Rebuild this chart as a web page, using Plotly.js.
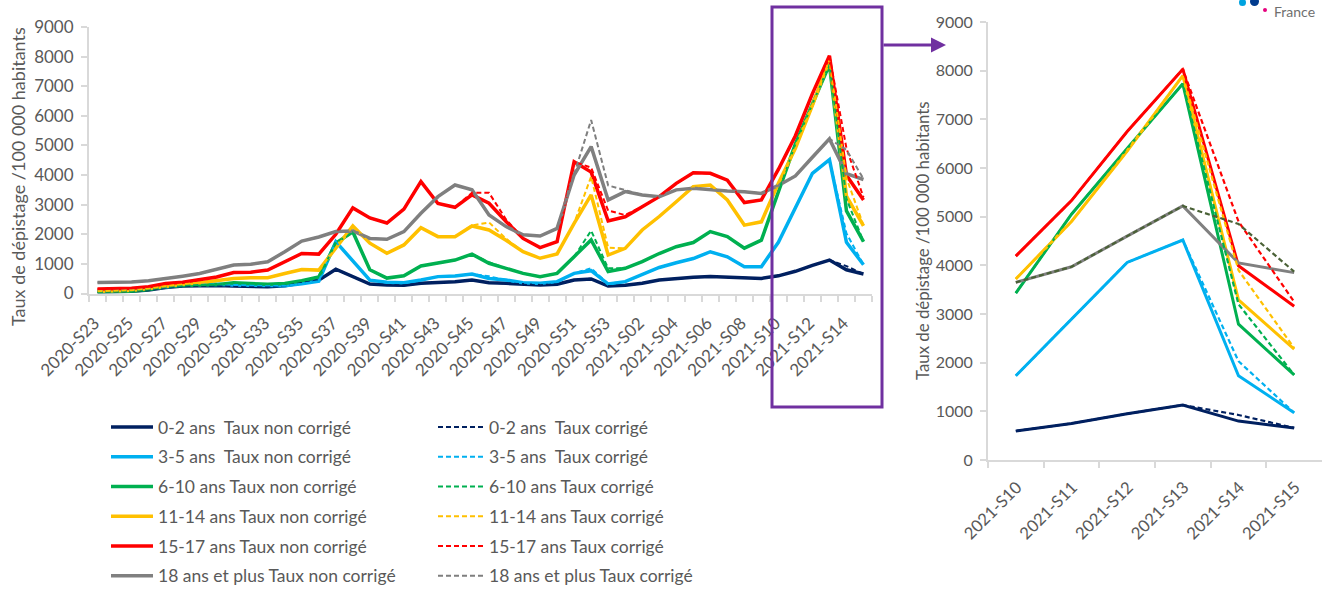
<!DOCTYPE html>
<html>
<head>
<meta charset="utf-8">
<script src="https://cdn.plot.ly/plotly-3.0.1.min.js"></script>
<style>html,body{margin:0;padding:0;background:#fff;}#chart{width:1344px;height:590px;}</style>
</head>
<body>
<div id="chart"></div>
<script>
// ---- Data ----
const weeks = ["2020-S23","2020-S24","2020-S25","2020-S26","2020-S27","2020-S28","2020-S29","2020-S30","2020-S31","2020-S32",
"2020-S33","2020-S34","2020-S35","2020-S36","2020-S37","2020-S38","2020-S39","2020-S40","2020-S41","2020-S42",
"2020-S43","2020-S44","2020-S45","2020-S46","2020-S47","2020-S48","2020-S49","2020-S50","2020-S51","2020-S52",
"2020-S53","2021-S01","2021-S02","2021-S03","2021-S04","2021-S05","2021-S06","2021-S07","2021-S08","2021-S09",
"2021-S10","2021-S11","2021-S12","2021-S13","2021-S14","2021-S15"];

const groups = ["0-2 ans\u00a0 ", "3-5 ans\u00a0 ", "6-10 ans ", "11-14 ans ", "15-17 ans ", "18 ans et plus "];
const colors = ["#002060", "#00b0f0", "#00b050", "#ffc000", "#ff0000", "#808080"];
const dashColors = ["#002060", "#00b0f0", "#00b050", "#ffc000", "#ff0000", "#7f7f7f"];
const zoomDashColors = ["#002060", "#00b0f0", "#00b050", "#ffc000", "#ff0000", "#4a6136"];

const age0_2 = [50,60,80,120,200,250,270,270,250,240,230,260,350,450,820,560,320,290,275,345,365,400,455,365,345,310,290,310,455,490,250,275,345,455,510,545,570,545,520,510,596,750,950,1130,800,657];
const age0_2c = [50,60,80,120,200,250,270,270,250,240,230,260,350,450,820,560,320,290,275,345,365,400,455,365,345,310,290,310,455,500,250,275,345,455,510,545,570,545,520,510,596,750,950,1130,925,660];

const age3_5 = [80,90,110,160,230,280,300,310,290,280,250,260,330,420,1750,1100,450,380,365,455,570,590,660,510,455,365,345,400,680,770,320,400,650,880,1040,1180,1410,1240,905,905,1730,2900,4060,4520,1730,970];
const age3_5c = [80,90,110,160,230,280,300,310,290,280,250,260,330,420,1750,1100,450,380,365,455,570,590,660,580,455,365,345,400,680,850,330,400,650,880,1040,1180,1410,1240,905,905,1730,2900,4060,4520,2030,970];

const age6_10 = [50,60,80,135,225,270,280,300,360,340,315,340,430,560,1700,2080,800,520,600,930,1020,1130,1330,1020,850,680,570,680,1245,1810,740,850,1080,1350,1580,1720,2090,1920,1530,1800,3430,5050,6400,7730,2790,1750];
const age6_10c = [50,60,80,135,225,270,280,300,360,340,315,340,430,560,1700,2080,800,520,600,930,1020,1130,1330,1060,850,680,570,680,1245,2120,850,850,1080,1350,1580,1720,2090,1920,1530,1800,3430,5050,6400,7730,3200,1750];

const age11_14 = [80,90,110,170,250,315,360,430,505,530,530,675,810,790,1520,2280,1700,1360,1640,2220,1920,1920,2280,2145,1800,1410,1190,1335,2370,3330,1300,1525,2145,2600,3100,3610,3660,3160,2310,2420,3720,4900,6350,7900,3290,2280];
const age11_14c = [80,90,110,170,250,315,360,430,505,530,530,675,810,790,1520,2280,1700,1360,1640,2220,1920,1920,2300,2400,1850,1410,1190,1335,2370,3950,1550,1525,2145,2600,3100,3610,3660,3160,2310,2420,3720,4900,6350,7900,3900,2300];

const age15_17 = [150,160,180,225,340,380,470,560,710,720,790,1070,1350,1330,2000,2890,2550,2380,2850,3780,3040,2910,3330,3050,2430,1860,1550,1750,4450,4100,2450,2590,2930,3270,3720,4080,4060,3830,3070,3160,4190,5330,6750,8030,3990,3160];
const age15_17c = [150,160,180,225,340,380,470,560,710,720,790,1070,1350,1330,2000,2890,2550,2380,2850,3780,3040,2910,3400,3400,2500,1860,1550,1750,4450,4250,2800,2650,2930,3270,3720,4080,4060,3830,3070,3160,4190,5330,6750,8030,4900,3250];

const age18p = [370,380,390,430,500,585,675,810,960,990,1070,1410,1770,1910,2090,2110,1860,1830,2090,2710,3270,3665,3500,2650,2260,1980,1940,2200,4000,4960,3160,3440,3330,3270,3500,3550,3500,3460,3440,3380,3650,3970,4600,5220,4050,3850];
const age18pc = [370,380,390,430,500,585,675,810,960,990,1070,1410,1770,1910,2090,2110,1860,1830,2090,2710,3270,3665,3500,2650,2260,1980,1940,2200,4000,5860,3650,3500,3330,3270,3500,3550,3500,3460,3440,3380,3650,3970,4600,5220,4850,3870];

const rawSeries = [age0_2, age3_5, age6_10, age11_14, age15_17, age18p];
const corrSeries = [age0_2c, age3_5c, age6_10c, age11_14c, age15_17c, age18pc];

const zoomStart = 40; // 2021-S10
const leftTickText = weeks.map((w, i) => (i % 2 === 0 ? w : ""));

const yTitle = "Taux de dépistage /100 000 habitants";
const FONT = "Lato, 'Open Sans', sans-serif";
const GREY = "#595959";

// ---- Traces ----
const traces = [];
rawSeries.forEach((s, k) => {
  traces.push({x: weeks, y: s, type: "scatter", mode: "lines", xaxis: "x", yaxis: "y",
    name: groups[k] + "Taux non corrigé", legend: "legend", legendgroup: "r" + k,
    line: {color: colors[k], width: 3.5}, hoverinfo: "x+y+name"});
});
corrSeries.forEach((s, k) => {
  traces.push({x: weeks, y: s, type: "scatter", mode: "lines", xaxis: "x", yaxis: "y",
    name: groups[k] + "Taux corrigé", legend: "legend2", legendgroup: "c" + k,
    line: {color: dashColors[k], width: 2, dash: "5px,3px"}, hoverinfo: "x+y+name"});
});
const zWeeks = weeks.slice(zoomStart);
rawSeries.forEach((s, k) => {
  traces.push({x: zWeeks, y: s.slice(zoomStart), type: "scatter", mode: "lines", xaxis: "x2", yaxis: "y2",
    showlegend: false, name: groups[k] + "Taux non corrigé", line: {color: colors[k], width: 3}});
});
corrSeries.forEach((s, k) => {
  traces.push({x: zWeeks, y: s.slice(zoomStart), type: "scatter", mode: "lines", xaxis: "x2", yaxis: "y2",
    showlegend: false, name: groups[k] + "Taux corrigé", line: {color: zoomDashColors[k], width: 2.2, dash: "5px,3px"}});
});

const W = 1344, H = 590;
const px = v => v / W, py = v => (H - v) / H;

const axisCommon = {
  type: "category", tickson: "boundaries", ticks: "outside", ticklen: 6, tickcolor: "#d9d9d9", tickwidth: 1.5,
  showline: true, linecolor: "#d9d9d9", linewidth: 2, showgrid: false, zeroline: false,
  tickangle: -45, fixedrange: true, automargin: false
};
const yCommon = {
  range: [0, 9000], dtick: 1000, tick0: 0, ticks: "outside", ticklen: 6, tickcolor: "#d9d9d9", tickwidth: 1.5,
  showline: true, linecolor: "#d9d9d9", linewidth: 2, showgrid: false, zeroline: false,
  ticklabelstandoff: 4, fixedrange: true, automargin: false
};

const legendCommon = {xanchor: "left", yanchor: "top", orientation: "v",
  bgcolor: "rgba(0,0,0,0)", font: {family: FONT, size: 17.5, color: GREY},
  tracegroupgap: 4, itemclick: false, itemdoubleclick: false};

const layout = {
  width: W, height: H, margin: {l: 0, r: 0, t: 0, b: 0, autoexpand: false},
  paper_bgcolor: "#ffffff", plot_bgcolor: "#ffffff",
  font: {family: FONT, color: GREY},
  xaxis: Object.assign({}, axisCommon, {domain: [px(89), px(872)], anchor: "y",
    range: [-0.5, weeks.length - 0.5], tickmode: "array", tickvals: weeks, ticktext: leftTickText,
    ticklabelstandoff: 11, ticklabelshift: -3,
    tickfont: {family: FONT, size: 17, color: GREY}}),
  yaxis: Object.assign({}, yCommon, {domain: [py(293.5), py(27)], anchor: "x",
    tickfont: {family: FONT, size: 17, color: GREY}}),
  xaxis2: Object.assign({}, axisCommon, {domain: [px(988), px(1322)], anchor: "y2",
    range: [-0.5, zWeeks.length - 0.5], tickmode: "array", tickvals: zWeeks, ticktext: zWeeks,
    ticklabelstandoff: 9, ticklabelshift: 1,
    tickfont: {family: FONT, size: 16.7, color: GREY}}),
  yaxis2: Object.assign({}, yCommon, {domain: [py(460), py(22)], anchor: "x2",
    tickfont: {family: FONT, size: 16, color: GREY}}),
  legend: Object.assign({}, legendCommon, {x: px(106), y: py(409), itemwidth: 42}),
  legend2: Object.assign({}, legendCommon, {x: px(433), y: py(409), itemwidth: 46}),
  shapes: [
    {type: "rect", xref: "paper", yref: "paper", x0: px(772), x1: px(882), y0: py(407), y1: py(7),
      line: {color: "#7030a0", width: 3}, fillcolor: "rgba(0,0,0,0)"},
    {type: "circle", xref: "paper", yref: "paper", x0: px(1239), x1: px(1246), y0: py(6), y1: py(-1),
      line: {width: 0}, fillcolor: "#00a3e0"},
    {type: "circle", xref: "paper", yref: "paper", x0: px(1250), x1: px(1259), y0: py(6), y1: py(-3),
      line: {width: 0}, fillcolor: "#003b8e"},
    {type: "circle", xref: "paper", yref: "paper", x0: px(1263), x1: px(1267), y0: py(12), y1: py(8),
      line: {width: 0}, fillcolor: "#e6007e"}
  ],
  annotations: [
    {xref: "paper", yref: "paper", x: px(946), y: py(45), ax: -64, ay: 0, text: "", showarrow: true,
      arrowhead: 2, arrowsize: 1, arrowwidth: 3, arrowcolor: "#7030a0"},
    {xref: "paper", yref: "paper", x: px(18), y: py(177), xanchor: "center", yanchor: "middle",
      text: yTitle, textangle: -90, showarrow: false, font: {family: FONT, size: 18, color: GREY}},
    {xref: "paper", yref: "paper", x: px(922), y: py(241), xanchor: "center", yanchor: "middle",
      text: yTitle, textangle: -90, showarrow: false, font: {family: FONT, size: 16.8, color: GREY}},
    {xref: "paper", yref: "paper", x: px(1272), y: py(1), xanchor: "left", yanchor: "top", text: "France",
      showarrow: false, font: {family: FONT, size: 14, color: "#6f6f6f"}}
  ],
  showlegend: true, hovermode: "closest"
};

Plotly.newPlot("chart", traces, layout, {displayModeBar: false, responsive: false});
</script>
</body>
</html>
